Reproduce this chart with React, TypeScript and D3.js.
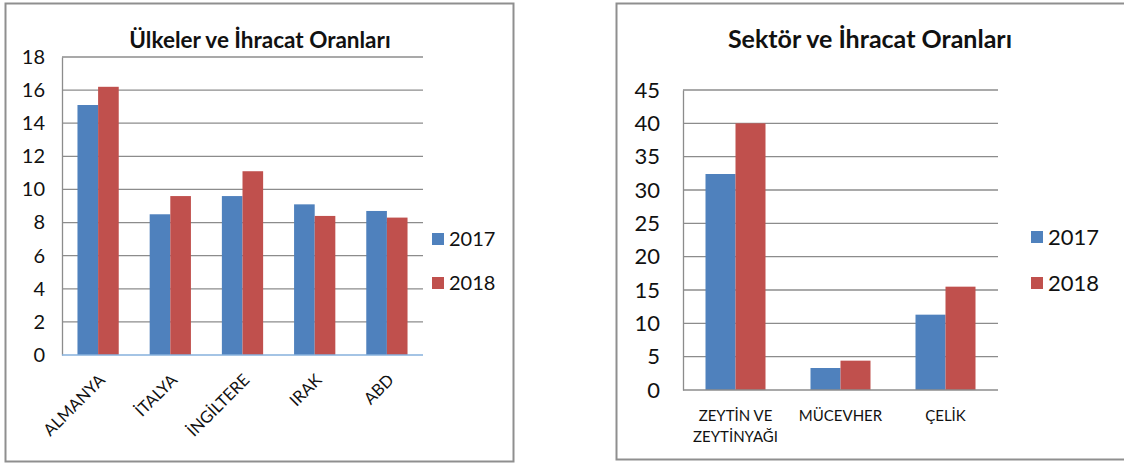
import React, { useEffect, useRef } from 'react';
import * as d3 from 'd3';

const seriesNames = ['2017', '2018'];
const seriesColors = ['#4f81bd', '#c0504d'];

const countries = ['ALMANYA', 'İTALYA', 'İNGİLTERE', 'IRAK', 'ABD'];
const countries2017 = [15.1, 8.5, 9.6, 9.1, 8.7];
const countries2018 = [16.2, 9.6, 11.1, 8.4, 8.3];
const countryTicks = [0, 2, 4, 6, 8, 10, 12, 14, 16, 18];

const sectors = [['ZEYTİN VE', 'ZEYTİNYAĞI'], ['MÜCEVHER'], ['ÇELİK']];
const sectors2017 = [32.4, 3.3, 11.3];
const sectors2018 = [40.0, 4.4, 15.5];
const sectorTicks = [0, 5, 10, 15, 20, 25, 30, 35, 40, 45];

const FONT = 'Lato, "Open Sans", sans-serif';

type ChartCfg = {
  title: string;
  titleX: number;
  titleSize: number;
  frame: [number, number, number, number];
  left: number;
  right: number;
  top: number;
  bottom: number;
  yMax: number;
  ticks: number[];
  tickSize: number;
  tickGap: number;
  cats: string[][];
  values: number[][];
  baseColor: string;
  rotate: boolean;
  labelSize: number;
  legendX: number;
  legendY: number[];
  legendSize: number;
};

function drawChart(g: d3.Selection<SVGGElement, unknown, null, undefined>, c: ChartCfg) {
  const [fx, fy, fw, fh] = c.frame;
  g.append('rect')
    .attr('x', fx).attr('y', fy).attr('width', fw).attr('height', fh)
    .attr('fill', '#fff').attr('stroke', '#8f8f8f').attr('stroke-width', 2);

  g.append('text')
    .attr('x', c.titleX).attr('y', 48)
    .attr('text-anchor', 'middle')
    .attr('font-family', FONT).attr('font-weight', 700)
    .attr('font-size', c.titleSize).attr('fill', '#111')
    .text(c.title);

  const y = d3.scaleLinear().domain([0, c.yMax]).range([c.bottom, c.top]);
  const keys = c.cats.map(d => d.join(' '));
  const x0 = d3.scaleBand<string>().domain(keys).range([c.left, c.right]).padding(0);
  const x1 = d3.scaleBand<string>().domain(seriesNames).range([0, x0.bandwidth()])
    .paddingInner(0).paddingOuter(0.75);

  // gridlines
  g.append('g').selectAll('line').data(c.ticks.filter(t => t > 0)).join('line')
    .attr('x1', c.left).attr('x2', c.right)
    .attr('y1', d => y(d)).attr('y2', d => y(d))
    .attr('stroke', '#8c8c8c').attr('stroke-width', 1.3);

  // y axis
  const ax = g.append('g').attr('transform', `translate(${c.left},0)`)
    .call(d3.axisLeft(y).tickValues(c.ticks).tickSize(0).tickPadding(c.tickGap).tickFormat(d3.format('d')));
  ax.select('.domain').attr('stroke', '#8c8c8c').attr('stroke-width', 1.3);
  ax.selectAll('text').attr('font-family', FONT).attr('font-size', c.tickSize).attr('fill', '#111');

  // bars
  keys.forEach((k, i) => {
    seriesNames.forEach((s, j) => {
      const v = c.values[j][i];
      g.append('rect')
        .attr('x', (x0(k) as number) + (x1(s) as number))
        .attr('y', y(v))
        .attr('width', x1.bandwidth())
        .attr('height', y(0) - y(v))
        .attr('fill', seriesColors[j]);
    });
  });

  // baseline
  g.append('line')
    .attr('x1', c.left).attr('x2', c.right)
    .attr('y1', y(0)).attr('y2', y(0))
    .attr('stroke', c.baseColor).attr('stroke-width', 1.6);

  // category labels
  c.cats.forEach((lines, i) => {
    const cx = (x0(keys[i]) as number) + x0.bandwidth() / 2;
    if (c.rotate) {
      g.append('text')
        .attr('transform', `translate(${cx + 4},${y(0) + 22}) rotate(-45)`)
        .attr('text-anchor', 'end')
        .attr('dy', '0.35em')
        .attr('font-family', FONT).attr('font-size', c.labelSize).attr('fill', '#111')
        .text(lines[0]);
    } else {
      const t = g.append('text')
        .attr('text-anchor', 'middle')
        .attr('font-family', FONT).attr('font-size', c.labelSize).attr('fill', '#111');
      lines.forEach((ln, li) => {
        t.append('tspan').attr('x', cx).attr('y', y(0) + 31 + li * 21).text(ln);
      });
    }
  });

  // legend
  seriesNames.forEach((s, j) => {
    const ly = c.legendY[j];
    g.append('rect')
      .attr('x', c.legendX).attr('y', ly - 6).attr('width', 12).attr('height', 12)
      .attr('fill', seriesColors[j]);
    g.append('text')
      .attr('x', c.legendX + 17).attr('y', ly).attr('dy', '0.35em')
      .attr('font-family', FONT).attr('font-size', c.legendSize).attr('fill', '#111')
      .text(s);
  });
}

export default function App() {
  const ref = useRef<SVGSVGElement>(null);

  useEffect(() => {
    if (!ref.current) return;
    const svg = d3.select(ref.current);
    svg.selectAll('*').remove();

    drawChart(svg.append('g'), {
      title: 'Ülkeler ve İhracat Oranları',
      titleX: 260,
      titleSize: 22.5,
      frame: [5.5, 3.5, 508, 458],
      left: 62, right: 423, top: 57, bottom: 355,
      yMax: 18,
      ticks: countryTicks,
      tickSize: 20,
      tickGap: 17,
      cats: countries.map(d => [d]),
      values: [countries2017, countries2018],
      baseColor: '#86b0dd',
      rotate: true,
      labelSize: 16.5,
      legendX: 432,
      legendY: [239, 283],
      legendSize: 20,
    });

    drawChart(svg.append('g'), {
      title: 'Sektör ve İhracat Oranları',
      titleX: 870,
      titleSize: 25,
      frame: [616.5, 3.5, 520, 456],
      left: 683, right: 998, top: 90, bottom: 390,
      yMax: 45,
      ticks: sectorTicks,
      tickSize: 22,
      tickGap: 23,
      cats: sectors,
      values: [sectors2017, sectors2018],
      baseColor: '#8c8c8c',
      rotate: false,
      labelSize: 15,
      legendX: 1031,
      legendY: [237, 283],
      legendSize: 22,
    });
  }, []);

  return (
    <svg
      ref={ref}
      width={1124}
      height={466}
      style={{ position: 'absolute', left: 0, top: 0, background: '#fff' }}
    />
  );
}
